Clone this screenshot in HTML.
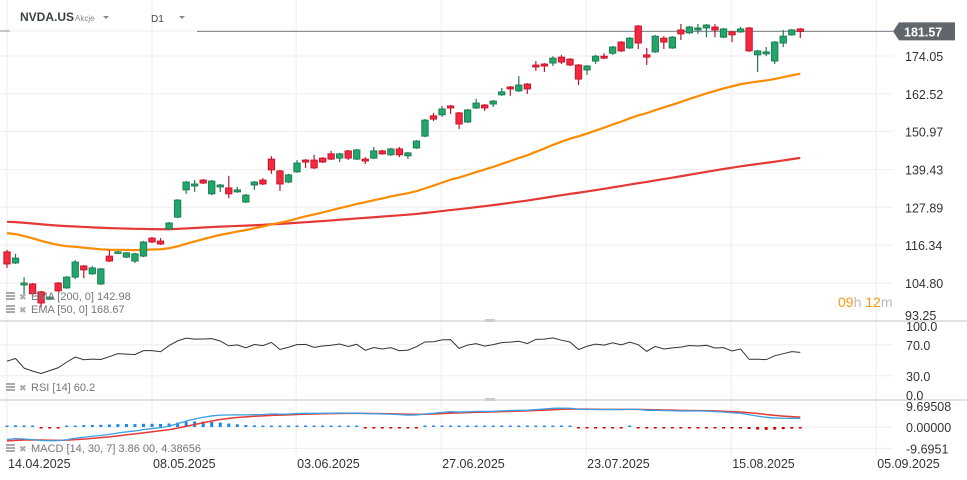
<!DOCTYPE html>
<html><head><meta charset="utf-8">
<style>
html,body{margin:0;padding:0;background:#fff;width:967px;height:480px;overflow:hidden;font-family:"Liberation Sans",sans-serif;}
svg{display:block}
</style></head>
<body>
<svg id="chart" width="967" height="480" xmlns="http://www.w3.org/2000/svg"></svg>
<script>
// ---- data ----
const dates = ["14.04.2025","08.05.2025","03.06.2025","27.06.2025","23.07.2025","15.08.2025","05.09.2025"];
const dateIdx = [0,17,33.9,50.9,67.9,84.9,101.9];
const priceTicks = [174.05,162.52,150.97,139.43,127.89,116.34,104.80,93.25];
const rsiTicks = [100,70,30,0];
const macdTicks = [9.69508,0,-9.6951];
const macdTickLabels = ["9.69508","0.00000","-9.6951"];
const opens  = [114.3,110.9,104.2,104.5,102.1,99.9,104.8,103.3,106.6,110.0,107.6,104.5,113.0,114.0,112.7,111.5,113.0,118.5,117.6,121.3,124.9,133.2,134.4,136.2,132.0,134.1,133.8,132.6,129.5,134.7,136.2,142.6,139.0,135.6,138.7,142.3,142.3,142.9,144.2,142.9,145.1,142.6,142.6,142.9,145.1,143.9,145.7,143.6,146.0,149.6,155.8,156.1,158.8,156.7,153.9,158.2,159.1,159.4,162.2,164.6,163.4,165.5,171.3,171.6,171.9,173.7,173.1,171.3,169.8,172.5,174.0,174.9,178.3,176.5,183.2,174.4,175.3,179.5,176.5,182.0,181.1,182.0,182.6,182.9,179.8,181.4,181.4,182.6,174.4,174.7,172.5,178.0,180.5,182.3];
const highs  = [114.9,113.7,106.6,104.8,102.4,100.9,105.1,106.9,111.8,110.3,110.0,109.4,114.9,114.6,114.3,114.0,117.6,118.8,118.5,123.4,130.4,135.9,136.2,136.5,136.2,135.0,137.5,134.1,132.0,135.9,136.8,143.5,139.3,138.1,142.3,142.6,143.9,143.2,145.1,144.5,145.4,145.7,143.2,146.3,145.4,146.0,146.3,144.8,148.4,154.8,156.7,158.8,159.1,157.0,157.9,161.0,159.4,160.6,164.3,164.9,167.9,165.8,172.5,171.9,174.0,174.4,173.4,171.6,171.3,174.4,174.9,177.1,178.6,179.8,183.5,176.5,180.5,180.1,180.1,183.8,183.2,183.8,183.8,183.8,182.6,181.7,182.9,182.9,175.9,176.8,178.6,182.0,182.3,182.6];
const lows   = [109.4,110.6,101.2,101.2,97.5,99.6,102.1,103.0,106.0,106.3,107.3,104.2,111.2,113.7,112.4,110.9,112.7,117.0,116.4,121.0,124.6,132.0,132.6,135.0,131.6,132.6,130.7,132.3,129.2,133.2,134.7,138.1,132.9,135.3,138.4,139.9,139.6,141.4,142.3,141.7,142.3,142.3,141.1,142.6,143.9,143.6,143.2,142.6,145.7,149.3,154.2,155.5,156.4,151.8,153.6,157.9,157.3,158.5,161.9,161.9,163.1,162.5,169.5,169.2,171.0,171.6,171.0,165.2,168.3,171.6,173.1,174.4,175.3,176.2,176.2,171.3,175.0,176.2,176.2,178.9,180.8,180.8,179.8,179.8,179.5,178.3,181.1,175.3,169.2,174.0,171.6,176.8,180.2,179.5];
const closes = [110.6,112.4,104.8,101.5,98.7,100.5,102.4,106.6,111.2,108.8,109.4,109.1,111.5,114.3,114.0,113.7,117.3,117.3,116.7,123.1,130.1,135.6,135.0,135.3,135.9,134.7,132.0,133.2,131.6,135.6,135.0,139.3,135.0,137.8,141.4,141.7,139.9,141.7,142.6,144.2,142.9,145.4,142.0,145.1,144.2,145.7,143.9,144.5,148.1,154.5,154.8,157.9,158.2,153.3,157.6,159.7,158.2,160.3,163.1,164.0,165.2,164.0,170.7,171.0,173.4,172.2,171.3,167.0,171.0,174.0,173.4,176.8,175.6,179.5,178.0,173.7,180.1,178.3,179.8,180.8,182.9,182.6,183.5,182.0,182.3,180.5,182.3,175.6,175.6,175.3,178.3,180.1,182.0,181.57];
// indicator seeds (state before first visible bar)
const ema50Seed = 120.4, ema200Seed = 123.6;
const ema14Seed = 112, ema30Seed = 118, signalSeed = -6.5;
const rsiGainSeed = 1.0, rsiLossSeed = 1.05;

// ---- scales ----
const svg = document.getElementById('chart');
const NS = "http://www.w3.org/2000/svg";
const xOf = i => 7 + i*8.53;
const yP = p => 56 + (174.05 - p)*3.278;
const yR = r => 399 - r*0.775;
const yM = m => 427 - m*2.2;
function mk(tag, attrs, parent){const e=document.createElementNS(NS,tag);for(const k in attrs)e.setAttribute(k,attrs[k]);(parent||svg).appendChild(e);return e;}
function txt(x,y,s,attrs){const e=mk('text',Object.assign({x:x,y:y},attrs||{}));e.textContent=s;return e;}

// ---- grid ----
const grid = mk('g',{});


dateIdx.forEach(i=>mk('line',{x1:xOf(i),x2:xOf(i),y1:0,y2:456,stroke:'#eeeeee','stroke-width':1},grid));
priceTicks.slice(0,7).forEach(p=>mk('line',{x1:0,x2:893,y1:yP(p),y2:yP(p),stroke:'#eeeeee'},grid));
[70,30].forEach(r=>mk('line',{x1:0,x2:893,y1:yR(r),y2:yR(r),stroke:'#eeeeee'},grid));
[0,-9.6951].forEach(m=>mk('line',{x1:0,x2:893,y1:yM(m),y2:yM(m),stroke:'#eeeeee'},grid));
mk('line',{x1:0,x2:967,y1:321,y2:321,stroke:'#d8d8d8','stroke-width':1.5},grid);
mk('line',{x1:0,x2:967,y1:400,y2:400,stroke:'#d8d8d8','stroke-width':1.5},grid);
mk('rect',{x:485,y:319,width:10,height:3,fill:'#ccc'},grid);
mk('rect',{x:485,y:398,width:10,height:3,fill:'#ccc'},grid);

// header
mk('line',{x1:0,x2:10,y1:31,y2:31,stroke:'#8a9096'});
mk('line',{x1:10,x2:197,y1:31,y2:31,stroke:'#eeeeee'});
const cur = mk('line',{x1:197,x2:893,y1:yP(closes[closes.length-1]),y2:yP(closes[closes.length-1]),stroke:'#8a9096','stroke-width':1.2});


const sym = txt(20,21,'NVDA.US',{'font-size':12,'font-weight':'bold',fill:'#3a4248'});


txt(75,21,'Akcje',{'font-size':8,fill:'#888'});
mk('path',{d:'M103 16 L109 16 L106 19 Z',fill:'#888'});
const tf = txt(151,22,'D1',{'font-size':10,fill:'#444'});


mk('path',{d:'M179 16 L185 16 L182 19 Z',fill:'#888'});

// ---- EMAs ----
let e50=ema50Seed, e200=ema200Seed; const ema50=[], ema200=[];
closes.forEach(c=>{e50=e50+(c-e50)*2/51; e200=e200+(c-e200)*2/201; ema50.push(e50); ema200.push(e200);});
const l200 = mk('polyline',{points:ema200.map((v,i)=>xOf(i)+','+yP(v)).join(' '),fill:'none',stroke:'#e53935','stroke-width':2.2});


const l50 = mk('polyline',{points:ema50.map((v,i)=>xOf(i)+','+yP(v)).join(' '),fill:'none',stroke:'#fb8c00','stroke-width':2.2});



// ---- candles ----
const cg = mk('g',{});


closes.forEach((c,i)=>{
  const o=opens[i], up=c>=o, x=xOf(i);
  const fill=up?'#21a66b':'#f5283f', stroke=up?'#1d7a4f':'#c0142a';
  const g=mk('g',{},cg);
  
  
  mk('line',{x1:x,x2:x,y1:yP(highs[i]),y2:yP(lows[i]),stroke:stroke,'stroke-width':1.2},g);
  const top=yP(Math.max(o,c)), bot=yP(Math.min(o,c));
  mk('rect',{x:x-3.2,y:top,width:6.4,height:Math.max(1.5,bot-top),fill:fill,stroke:stroke,'stroke-width':0.9},g);
});

// ---- RSI ----
let ag=rsiGainSeed, al=rsiLossSeed; const rsi=[];
closes.forEach((c,i)=>{const prev=i?closes[i-1]:c; const d=c-prev; ag=(ag*13+Math.max(d,0))/14; al=(al*13+Math.max(-d,0))/14; rsi.push(100-100/(1+ag/al));});
const rl = mk('polyline',{points:rsi.map((v,i)=>xOf(i)+','+yR(v)).join(' '),fill:'none',stroke:'#333','stroke-width':1});



// ---- MACD ----
let m14=ema14Seed, m30=ema30Seed, sg=signalSeed; const macd=[], sig=[], hist=[];
closes.forEach(c=>{m14+=(c-m14)*2/15; m30+=(c-m30)*2/31; const m=m14-m30; sg+=(m-sg)*2/8; macd.push(m); sig.push(sg); hist.push(m-sg);});
const hg = mk('g',{});


hist.forEach((h,i)=>{const hh=Math.max(1.5,Math.abs(h)*2.2); mk('rect',{x:xOf(i)-1.5,y:h>=0?427-hh:427,width:3,height:hh,fill:h>=0?'#1e88e5':'#d50000'},hg);});
const sl = mk('polyline',{points:sig.map((v,i)=>xOf(i)+','+yM(v)).join(' '),fill:'none',stroke:'#e53935','stroke-width':1.5});


const ml = mk('polyline',{points:macd.map((v,i)=>xOf(i)+','+yM(v)).join(' '),fill:'none',stroke:'#3aa0e0','stroke-width':1.3});



// ---- axes labels ----
const ax = mk('g',{'font-size':12.5,fill:'#333'});


priceTicks.forEach((p,i)=>{const y=i===7?320:yP(p)+5; ax.appendChild(txt(905,y,p.toFixed(2),{}));});
const ra = mk('g',{'font-size':12.5,fill:'#333'});


rsiTicks.forEach(r=>{const y=r===100?331:(r===0?400:yR(r)+5); ra.appendChild(txt(906,y,r.toFixed(1),{}));});
const ma = mk('g',{'font-size':12.5,fill:'#333'});


macdTicks.forEach((m,i)=>{const y=i===0?411:yM(m)+5; ma.appendChild(txt(906,y,macdTickLabels[i],{}));});
const da = mk('g',{'font-size':12.5,fill:'#333'});


dates.forEach((d,i)=>da.appendChild(txt(xOf(dateIdx[i])+1,468,d,{})));

// price label
const pl = mk('g',{});


const py=yP(closes[closes.length-1]);
mk('path',{d:`M893 ${py} L899 ${py-9} L955 ${py-9} L955 ${py+9} L899 ${py+9} Z`,fill:'#5f666c'},pl);
pl.appendChild(txt(904,py+5,closes[closes.length-1].toFixed(2),{'font-size':12.5,'font-weight':'bold',fill:'#fff'}));

// countdown
const cd = txt(838,307,'',{'font-size':14});


cd.innerHTML='<tspan fill="#f39c12">09</tspan><tspan fill="#bbb">h </tspan><tspan fill="#f39c12">12</tspan><tspan fill="#bbb">m</tspan>';

// legends
function legend(y,label,name){
  const g=mk('g',{});
  
  
  mk('rect',{x:6,y:y-8,width:9,height:2,fill:'#aaa'},g);
  mk('rect',{x:6,y:y-5,width:9,height:2,fill:'#aaa'},g);
  mk('rect',{x:6,y:y-2,width:9,height:2,fill:'#aaa'},g);
  g.appendChild(txt(19,y,'✖',{'font-size':9,fill:'#aaa'}));
  g.appendChild(txt(31,y,label,{'font-size':11,fill:'#777'}));
}
legend(300,'EMA  [200,  0]  '+ema200[ema200.length-1].toFixed(2),'ema-200-legend');
legend(313,'EMA  [50,  0]  '+ema50[ema50.length-1].toFixed(2),'ema-50-legend');
legend(391,'RSI  [14]  '+rsi[rsi.length-1].toFixed(1),'rsi-legend');
legend(452,'MACD  [14,  30,  7]  3.86  00,  4.38656','macd-legend');
</script>
</body></html>
